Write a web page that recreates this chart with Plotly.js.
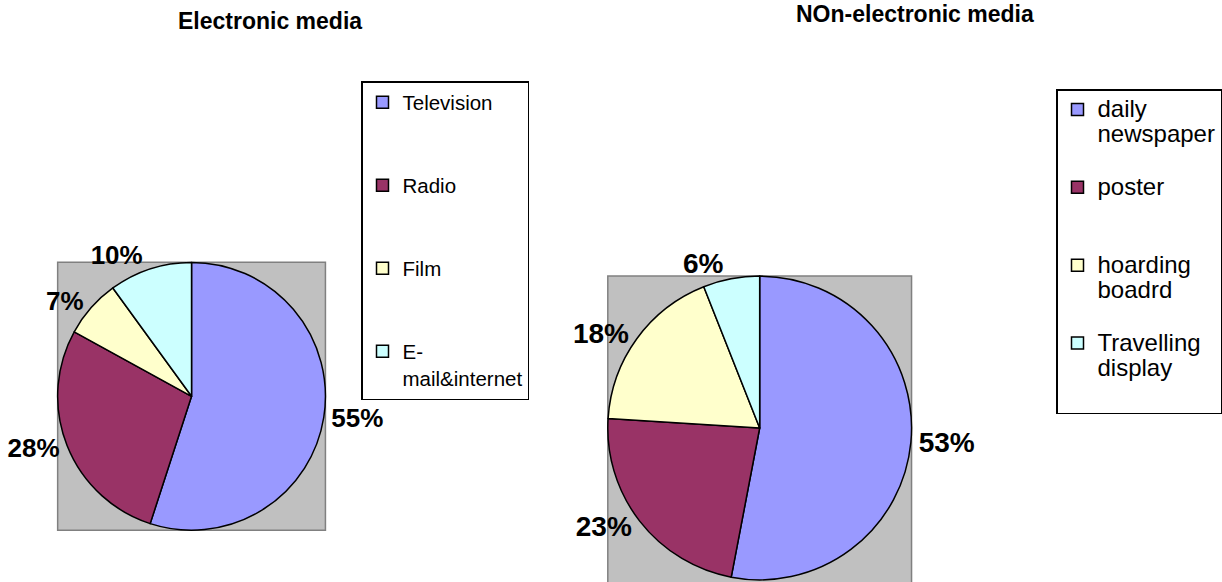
<!DOCTYPE html>
<html>
<head>
<meta charset="utf-8">
<script src="https://cdn.plot.ly/plotly-3.0.1.min.js"></script>
<style>
html, body { margin: 0; padding: 0; background: #ffffff; }
#chart { width: 1222px; height: 582px; }
</style>
</head>
<body>
<div id="chart"></div>
<script>
// ---- data ----
const chartTitles = ['Electronic media', 'NOn-electronic media'];

const electronicLabels = ['Television', 'Radio', 'Film', 'E-mail&internet'];
const electronicLegendLines = [['Television'], ['Radio'], ['Film'], ['E-', 'mail&internet']];
const electronicValues = [55, 28, 7, 10];

const nonElectronicLabels = ['daily newspaper', 'poster', 'hoarding boadrd', 'Travelling display'];
const nonElectronicLegendLines = [['daily', 'newspaper'], ['poster'], ['hoarding', 'boadrd'], ['Travelling', 'display']];
const nonElectronicValues = [53, 23, 18, 6];

const sliceColors = ['#9999FF', '#993366', '#FFFFCC', '#CCFFFF'];

// ---- layout helpers ----
const W = 1222, H = 582;
const FONT = 'Liberation Sans, Arial, sans-serif';

function pieDomain(cx, cy, r) {
  return { x: [(cx - r) / W, (cx + r) / W], y: [1 - (cy + r) / H, 1 - (cy - r) / H] };
}
// legend entries padded to a fixed number of lines to reproduce the spacing
function legendText(lines, nLines, spanSize, isLast) {
  const shown = lines.map(l => spanSize ? '<span style="font-size:' + spanSize + 'px">' + l + '</span>' : l);
  if (!isLast) { while (shown.length < nLines) shown.push(' '); }
  return shown.join('<br>');
}

const leftDom = pieDomain(191.7, 396.3, 134);
const rightDom = pieDomain(760.3, 428, 152);

const traces = [
  {
    type: 'pie',
    labels: electronicLegendLines.map((l, i, a) => legendText(l, 3, 0, i === a.length - 1)),
    values: electronicValues,
    customdata: electronicLabels,
    sort: false,
    direction: 'clockwise',
    rotation: 0,
    marker: { colors: sliceColors, line: { color: '#000000', width: 1.5 } },
    textinfo: 'percent',
    textposition: 'outside',
    textfont: { family: FONT, size: 26, color: '#000000', weight: 'bold' },
    domain: leftDom,
    legend: 'legend',
    hoverinfo: 'none',
    automargin: false
  },
  {
    type: 'pie',
    labels: nonElectronicLegendLines.map(l => legendText(l, 3, 24, false)),
    values: nonElectronicValues,
    customdata: nonElectronicLabels,
    sort: false,
    direction: 'clockwise',
    rotation: 0,
    marker: { colors: sliceColors, line: { color: '#000000', width: 1.5 } },
    textinfo: 'percent',
    textposition: 'outside',
    textfont: { family: FONT, size: 28, color: '#000000', weight: 'bold' },
    domain: rightDom,
    legend: 'legend2',
    hoverinfo: 'none',
    automargin: false
  }
];

function boxShape(dom, extendBottom) {
  return {
    type: 'rect', xref: 'paper', yref: 'paper', layer: 'below',
    x0: dom.x[0], x1: dom.x[1], y0: dom.y[0] - (extendBottom || 0), y1: dom.y[1],
    fillcolor: '#C0C0C0', line: { color: '#808080', width: 1.5 }
  };
}

const layout = {
  width: W, height: H,
  margin: { l: 0, r: 0, t: 0, b: 0 },
  paper_bgcolor: '#ffffff',
  plot_bgcolor: '#ffffff',
  showlegend: true,
  font: { family: FONT, color: '#000000' },
  shapes: [boxShape(leftDom, 0), boxShape(rightDom, 0.02)],
  annotations: [
    { text: chartTitles[0], xref: 'paper', yref: 'paper', x: 270 / W, y: 1 - 21 / H,
      xanchor: 'center', yanchor: 'middle', showarrow: false,
      font: { family: FONT, size: 23, color: '#000000', weight: 'bold' } },
    { text: chartTitles[1], xref: 'paper', yref: 'paper', x: 916 / W, y: 1 - 13.5 / H,
      xanchor: 'center', yanchor: 'middle', showarrow: false,
      font: { family: FONT, size: 23, color: '#000000', weight: 'bold' } }
  ],
  legend: {
    x: 361 / W, y: 1 - 81 / H, xanchor: 'left', yanchor: 'top',
    bgcolor: '#ffffff', bordercolor: '#000000', borderwidth: 1.5,
    font: { family: FONT, size: 20.5, color: '#000000' },
    valign: 'top', traceorder: 'normal'
  },
  legend2: {
    x: 1057 / W, y: 1 - 89 / H, xanchor: 'left', yanchor: 'top',
    bgcolor: '#ffffff', bordercolor: '#000000', borderwidth: 1.5,
    font: { family: FONT, size: 19.2, color: '#000000' },
    valign: 'top', traceorder: 'normal'
  }
};

Plotly.newPlot('chart', traces, layout, { staticPlot: true, displayModeBar: false });
</script>
</body>
</html>
